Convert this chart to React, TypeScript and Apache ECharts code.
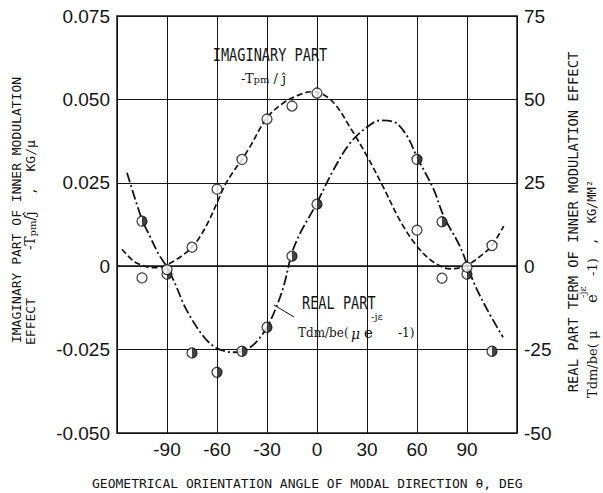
import React, { useEffect, useRef } from 'react';
import * as echarts from 'echarts';

// ---- data ----
const angleTicks = [-90, -60, -30, 0, 30, 60, 90];
const imagTickLabels = ['-0.050', '-0.025', '0', '0.025', '0.050', '0.075'];
const realTickLabels = ['-50', '-25', '0', '25', '50', '75'];

const obsAngle = [-105, -90, -75, -60, -45, -30, -15, 0, 60, 75, 90, 105];
const imagObsValue = [-0.0035, -0.001, 0.0057, 0.0231, 0.032, 0.0441, 0.048, 0.0519, 0.0108, -0.0036, -0.0003, 0.0062];
const realObsValue = [13.5, -2.4, -26, -31.8, -25.5, -18.3, 3, 18.6, 32, 13.3, -2.4, -25.5];

const imagCurveAngle = [-117, -110, -105, -100, -95, -90, -85, -80, -75, -70, -65, -60, -55, -50, -45, -40, -30, -20, -10, -3, 0, 10, 20, 30, 40, 50, 60, 70, 80, 90, 100, 105, 112];
const imagCurveValue = [0.0051, 0.0015, 0.0003, -0.0004, -0.0004, 0.0005, 0.0018, 0.0035, 0.0057, 0.009, 0.0135, 0.019, 0.0245, 0.0285, 0.032, 0.036, 0.0445, 0.049, 0.0515, 0.0523, 0.0522, 0.049, 0.0415, 0.033, 0.0235, 0.0135, 0.006, 0.0012, -0.0008, 0.0003, 0.0038, 0.0062, 0.012];

const realCurveAngle = [-114, -105, -100, -95, -90, -85, -80, -75, -70, -65, -60, -55, -50, -45, -40, -35, -30, -25, -20, -15, -10, -5, 0, 10, 20, 30, 38, 46, 54, 60, 70, 76, 86, 94, 102, 111.6];
const realCurveValue = [28, 14, 8.7, 3.6, -0.3, -5.4, -11.4, -16, -19.8, -22.8, -24.6, -25.5, -25.8, -25.5, -24.3, -21.9, -18.3, -13, -6, 4, 10, 14.5, 19, 29, 37, 41.7, 43.7, 43.3, 39, 32.7, 23, 15, 5.7, -4.8, -12.9, -21.3];

const INK = '#141414';
const MONO = '"DejaVu Sans Mono", monospace';
const SERIF = '"DejaVu Serif", serif';
const HALF_DISK = 'path://M0,0 C5.52,0 10,4.48 10,10 C10,15.52 5.52,20 0,20 Z';

export default function App() {
  const ref = useRef<HTMLDivElement>(null);

  useEffect(() => {
    if (!ref.current) return;
    const chart = echarts.init(ref.current, undefined, { renderer: 'svg' });
    const zip = (a: number[], b: number[]) => a.map((x, i) => [x, b[i]]);
    const rot = Math.PI / 2;
    const tickFont = '"Liberation Sans", Arial, sans-serif';

    const option: any = {
      animation: false,
      backgroundColor: '#ffffff',
      grid: { left: 117, right: 86, top: 16, bottom: 60, show: true, borderColor: INK, borderWidth: 1.5, backgroundColor: 'transparent' },
      xAxis: {
        type: 'value', min: -120, max: 120, interval: 30,
        axisLine: { show: false }, axisTick: { show: false },
        splitLine: { show: true, lineStyle: { color: INK, width: 1 } },
        axisLabel: {
          margin: 7, color: INK, fontFamily: tickFont, fontSize: 19,
          formatter: (v: number) => (angleTicks.includes(Math.round(v)) ? String(Math.round(v)) : ''),
        },
      },
      yAxis: [
        {
          type: 'value', min: -0.05, max: 0.075, interval: 0.025,
          axisLine: { show: false }, axisTick: { show: false },
          splitLine: { show: true, lineStyle: { color: INK, width: 1 } },
          axisLabel: {
            margin: 7, color: INK, fontFamily: tickFont, fontSize: 19,
            formatter: (v: number) => imagTickLabels[Math.round((v + 0.05) / 0.025)] ?? '',
          },
        },
        {
          type: 'value', min: -50, max: 75, interval: 25, position: 'right',
          axisLine: { show: false }, axisTick: { show: false }, splitLine: { show: false },
          axisLabel: {
            margin: 7, color: INK, fontFamily: tickFont, fontSize: 19,
            formatter: (v: number) => realTickLabels[Math.round((v + 50) / 25)] ?? '',
          },
        },
      ],
      series: [
        {
          type: 'line', yAxisIndex: 0, data: zip(imagCurveAngle, imagCurveValue), smooth: 0.35,
          showSymbol: false, lineStyle: { color: INK, width: 1.7, type: [6, 3] }, z: 3,
          markLine: {
            silent: true, symbol: 'none', label: { show: false },
            lineStyle: { color: INK, type: 'solid', width: 1.7 }, data: [{ yAxis: 0 }],
          },
        },
        {
          type: 'line', yAxisIndex: 1, data: zip(realCurveAngle, realCurveValue), smooth: 0.35,
          showSymbol: false, lineStyle: { color: INK, width: 1.8, type: [10, 3, 2, 3] }, z: 3,
        },
        {
          type: 'scatter', yAxisIndex: 1, data: zip(obsAngle, realObsValue), symbol: 'circle', symbolSize: 10,
          itemStyle: { color: '#fff', borderColor: INK, borderWidth: 1.3 }, z: 4,
        },
        {
          type: 'scatter', yAxisIndex: 1, data: zip(obsAngle, realObsValue), symbol: HALF_DISK,
          symbolSize: [5, 10], symbolOffset: [2.5, 0], itemStyle: { color: INK }, z: 5,
        },
        {
          type: 'scatter', yAxisIndex: 0, data: zip(obsAngle, imagObsValue), symbol: 'circle', symbolSize: 10,
          itemStyle: { color: '#fff', borderColor: INK, borderWidth: 1.3 }, z: 6,
        },
      ],
      graphic: [
        // left axis title
        { type: 'text', x: 16, y: 210, rotation: rot, z: 10,
          style: { text: 'IMAGINARY PART OF INNER MODULATION', font: `13px ${MONO}`, fill: INK, align: 'center', verticalAlign: 'middle' } },
        { type: 'text', x: 30, y: 345, rotation: rot, z: 10,
          style: { text: 'EFFECT', font: `13px ${MONO}`, fill: INK, align: 'left', verticalAlign: 'middle' } },
        { type: 'text', x: 30, y: 250, rotation: rot, z: 10,
          style: {
            text: '{a|-T}{s|pm}{a|/ĵ}', fill: INK, align: 'left', verticalAlign: 'middle',
            rich: { a: { font: `14px ${SERIF}`, fill: INK }, s: { font: `10px ${SERIF}`, fill: INK, verticalAlign: 'bottom' } },
          } },
        { type: 'text', x: 30, y: 195, rotation: rot, z: 10,
          style: { text: ',  KG/μ', font: `13px ${MONO}`, fill: INK, align: 'left', verticalAlign: 'middle' } },
        // right axis title
        { type: 'text', x: 573, y: 222, rotation: rot, z: 10,
          style: { text: 'REAL PART TERM OF INNER MODULATION EFFECT', font: `13.8px ${MONO}`, fill: INK, align: 'center', verticalAlign: 'middle' } },
        { type: 'text', x: 592, y: 398, rotation: rot, z: 10,
          style: { text: 'Tdm/be( μ', font: `13px ${SERIF}`, fill: INK, align: 'left', verticalAlign: 'middle' } },
        { type: 'text', x: 592, y: 303, rotation: rot, z: 10,
          style: { text: 'e', font: `15px ${SERIF}`, fill: INK, align: 'left', verticalAlign: 'middle' } },
        { type: 'text', x: 582, y: 298, rotation: rot, z: 10,
          style: { text: '-jε', font: `10px ${SERIF}`, fill: INK, align: 'left', verticalAlign: 'middle' } },
        { type: 'text', x: 592, y: 276, rotation: rot, z: 10,
          style: { text: '-1)', font: `13px ${SERIF}`, fill: INK, align: 'left', verticalAlign: 'middle' } },
        { type: 'text', x: 592, y: 245, rotation: rot, z: 10,
          style: { text: ',  KG/MM²', font: `12px ${MONO}`, fill: INK, align: 'left', verticalAlign: 'middle' } },
        // x axis title
        { type: 'text', x: 92, y: 483, z: 10,
          style: { text: 'GEOMETRICAL ORIENTATION ANGLE OF MODAL DIRECTION θ, DEG', font: `13px ${MONO}`, fill: INK, align: 'left', verticalAlign: 'middle' } },
        // curve annotations
        { type: 'text', x: 270, y: 55, scaleY: 1.3, z: 10,
          style: { text: 'IMAGINARY PART', font: `13.6px ${MONO}`, fill: INK, align: 'center', verticalAlign: 'middle' } },
        { type: 'text', x: 241, y: 78, z: 10,
          style: {
            text: '{a|-T}{s|pm}{a| / ĵ}', fill: INK, align: 'left', verticalAlign: 'middle',
            rich: { a: { font: `13px ${SERIF}`, fill: INK }, s: { font: `10px ${SERIF}`, fill: INK, verticalAlign: 'bottom' } },
          } },
        { type: 'text', x: 302, y: 303, scaleY: 1.3, z: 10,
          style: { text: 'REAL PART', font: `13.6px ${MONO}`, fill: INK, align: 'left', verticalAlign: 'middle' } },
        { type: 'line', z: 10, shape: { x1: 274, y1: 305, x2: 294, y2: 317 }, style: { stroke: INK, lineWidth: 1 } },
        { type: 'text', x: 298, y: 333, z: 10,
          style: { text: 'Tdm/be(', font: `12px ${SERIF}`, fill: INK, align: 'left', verticalAlign: 'middle' } },
        { type: 'text', x: 351, y: 334, z: 10,
          style: { text: 'μ', font: `italic 14px ${SERIF}`, fill: INK, align: 'left', verticalAlign: 'middle' } },
        { type: 'text', x: 364, y: 333, z: 10,
          style: { text: 'e', font: `15px ${SERIF}`, fill: INK, align: 'left', verticalAlign: 'middle' } },
        { type: 'text', x: 371, y: 316, z: 10,
          style: { text: '-jε', font: `10px ${SERIF}`, fill: INK, align: 'left', verticalAlign: 'middle' } },
        { type: 'text', x: 398, y: 333, z: 10,
          style: { text: '-1)', font: `12px ${SERIF}`, fill: INK, align: 'left', verticalAlign: 'middle' } },
      ],
    };

    chart.setOption(option);
    return () => chart.dispose();
  }, []);

  return <div ref={ref} style={{ position: 'fixed', left: 0, top: 0, width: 603, height: 493, background: '#fff' }} />;
}
